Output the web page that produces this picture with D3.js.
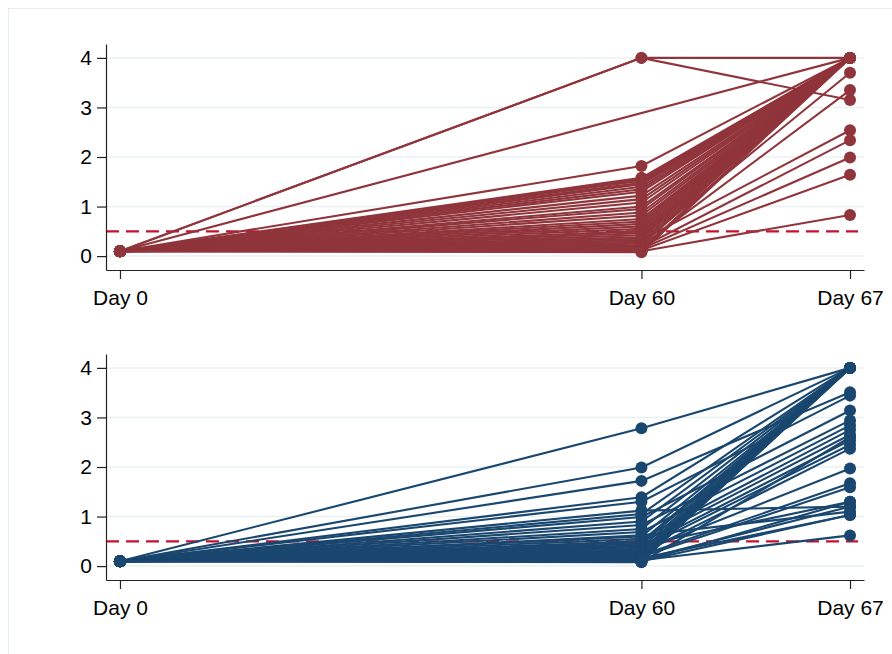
<!DOCTYPE html>
<html>
<head>
<meta charset="utf-8">
<script src="https://cdn.jsdelivr.net/npm/d3@7"></script>
<style>
  body { margin: 0; background: #fff; }
  svg { display: block; font-family: "Liberation Sans", Arial, sans-serif; }
</style>
</head>
<body>
<div id="chart"></div>
<script>
// x positions of the visits on the axis and their labels
const visitPos = [0, 5, 7];
const visitLabels = ["Day 0", "Day 60", "Day 67"];
const yTicks = [0, 1, 2, 3, 4];
const cutoff = 0.5;

// top group (one entry per subject, null = missing)
const topDay0 = Array(42).fill(0.1);
const topDay60 = [4, 4, null, 1.82, 1.58, 1.55, 1.52, 1.48, 1.45, 1.4, 1.35, 1.3, 1.22, 1.15,
  1.08, 1.0, 0.95, 0.88, 0.82, 0.75, 0.7, 0.65, 0.6, 0.55, 0.5, 0.46, 0.42, 0.38, 0.35, 0.32,
  0.3, 0.27, 0.25, 0.22, 0.2, 0.18, 0.15, 0.13, 0.12, 0.1, 0.1, 0.08];
const topDay67 = [4, 3.15, 4, 4, 4, 4, 4, 4, 4, 4, 4, 4, 4, 4,
  4, 4, 4, 4, 4, 4, 4, 4, 4, 4, 4, 4, 4, 4, 4, 2.54,
  4, 3.7, 4, 4, 3.35, 2.34, 1.99, 4, 1.64, 4, 0.83, 4];

// bottom group
const botDay0 = Array(42).fill(0.1);
const botDay60 = [2.78, 1.99, 1.72, 1.39, 1.3, 1.12, 1.05, 0.99, 0.9, 0.83, 0.75, 0.69, 0.62, 0.6,
  0.55, 0.5, 0.48, 0.45, 0.42, 0.4, 0.38, 0.35, 0.32, 0.3, 0.28, 0.26, 0.24, 0.22, 0.2, 0.19,
  0.18, 0.16, 0.15, 0.14, 0.13, 0.12, 0.11, 0.1, 0.1, 0.1, 0.09, 0.08];
const botDay67 = [4, 4, 3.51, 4, 3.44, 1.2, 4, 3.14, 4, 2.94, 4, 2.84, 1.1, 4,
  2.75, 4, 2.65, 4, 1.3, 2.54, 4, 2.45, 4, 1.97, 4, 2.37, 4, 1.67, 4, 1.59,
  4, 1.03, 4, 1.2, 4, 0.62, 4, 1.3, 4, 1.03, 4, 2.6];

const W = 892, H = 654;
const svg = d3.select("#chart").append("svg")
  .attr("width", W)
  .attr("height", H);

// outer frame
svg.append("rect")
  .attr("x", 8.5).attr("y", 8.5)
  .attr("width", W + 20).attr("height", H + 20)
  .attr("fill", "#fff")
  .attr("stroke", "#e3ecee");

const xScale = d3.scaleLinear()
  .domain([-0.134, 7.134])
  .range([106, 864]);

function drawPanel(day0, day60, day67, top, color) {
  const yScale = d3.scaleLinear()
    .domain([-0.28, 4.28])
    .range([top + 226, top]);

  const g = svg.append("g");

  // grid
  g.selectAll(".grid")
    .data(yTicks)
    .enter()
    .append("line")
    .attr("x1", xScale.range()[0])
    .attr("x2", xScale.range()[1])
    .attr("y1", d => yScale(d))
    .attr("y2", d => yScale(d))
    .attr("stroke", "#eaf1f3")
    .attr("stroke-width", 1.5);

  // reference line
  g.append("line")
    .attr("x1", xScale.range()[0])
    .attr("x2", xScale(7) + 8)
    .attr("y1", yScale(cutoff))
    .attr("y2", yScale(cutoff))
    .attr("stroke", "#c8102e")
    .attr("stroke-width", 2.4)
    .attr("stroke-dasharray", "13,7");

  const subjects = day0.map((d, i) => [d, day60[i], day67[i]]
    .map((v, j) => ({ x: visitPos[j], y: v }))
    .filter(p => p.y !== null));

  const line = d3.line()
    .x(d => xScale(d.x))
    .y(d => yScale(d.y));

  subjects.forEach(s => {
    g.append("path")
      .datum(s)
      .attr("fill", "none")
      .attr("stroke", color)
      .attr("stroke-width", 2.1)
      .attr("d", line);

    g.selectAll(null)
      .data(s)
      .enter()
      .append("circle")
      .attr("cx", d => xScale(d.x))
      .attr("cy", d => yScale(d.y))
      .attr("r", 6)
      .attr("fill", color);
  });

  // axes
  const yAxis = g.append("g")
    .attr("transform", `translate(${xScale.range()[0]},0)`)
    .call(d3.axisLeft(yScale).tickValues(yTicks).tickFormat(d3.format("d"))
      .tickSize(9).tickSizeOuter(0).tickPadding(5));

  const xAxis = g.append("g")
    .attr("transform", `translate(0,${top + 226})`)
    .call(d3.axisBottom(xScale).tickValues(visitPos)
      .tickFormat((d, i) => visitLabels[i]).tickSize(9).tickSizeOuter(0).tickPadding(11));

  [yAxis, xAxis].forEach(ax => {
    ax.select(".domain").attr("stroke", "#222").attr("stroke-width", 1.2);
    ax.selectAll(".tick line").attr("stroke", "#222").attr("stroke-width", 1.2);
    ax.selectAll(".tick text")
      .attr("fill", "#000")
      .style("font-size", "21px")
      .style("font-family", "'Liberation Sans', Arial, sans-serif");
  });
}

drawPanel(topDay0, topDay60, topDay67, 44, "#90353b");
drawPanel(botDay0, botDay60, botDay67, 354, "#1a476f");
</script>
</body>
</html>
